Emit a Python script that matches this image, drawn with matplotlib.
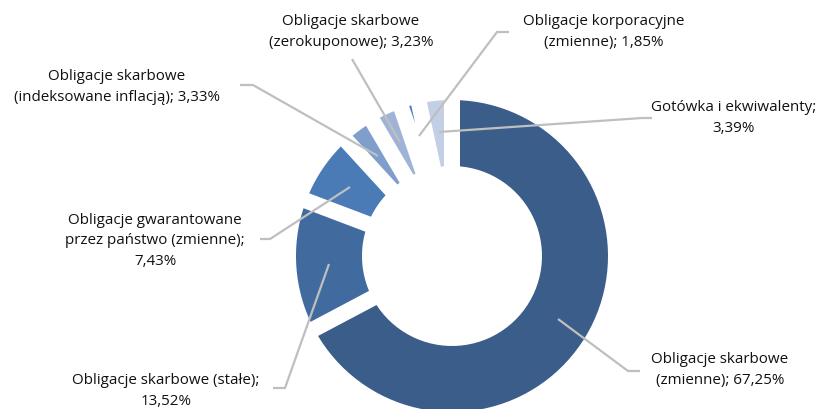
import numpy as np
import matplotlib
matplotlib.use("Agg")
import matplotlib.pyplot as plt
from matplotlib.patches import Polygon

# shares in %, clockwise from 12 o'clock
labels = [
    "Obligacje skarbowe\n(zmienne); 67,25%",
    "Obligacje skarbowe (stałe);\n13,52%",
    "Obligacje gwarantowane\nprzez państwo (zmienne);\n7,43%",
    "Obligacje skarbowe\n(indeksowane inflacją); 3,33%",
    "Obligacje skarbowe\n(zerokuponowe); 3,23%",
    "Obligacje korporacyjne\n(zmienne); 1,85%",
    "Gotówka i ekwiwalenty;\n3,39%",
]
shares = [67.25, 13.52, 7.43, 3.33, 3.23, 1.85, 3.39]
colors = ["#3a5d8a", "#416b9f", "#4a7bb6", "#7f9ecb", "#9fb3d6", "#4a7bb6", "#c3cfe4"]

# layout in pixel space
cx, cy = 452, 257
R_out, R_in = 156, 90
half_gap = 8

# label anchors and leader line paths (pixels)
label_pos = [(720, 370), (166, 391), (155, 241), (117, 87), (351, 32), (604, 32), (734, 118)]
leaders = [
    [(558, 320), (628, 372), (640, 372)],
    [(329, 265), (285, 389), (273, 389)],
    [(350, 188), (270, 240), (260, 240)],
    [(378, 157), (253, 86), (240, 86)],
    [(400, 143), (352, 60)],
    [(419, 137), (497, 33), (509, 33)],
    [(439, 133), (642, 119), (652, 119)],
]

plt.rcParams["font.family"] = ["Open Sans", "DejaVu Sans"]

fig = plt.figure(figsize=(8.35, 4.1), dpi=100)
ax = fig.add_axes([0, 0, 1, 1])
ax.set_xlim(0, 835)
ax.set_ylim(410, 0)
ax.set_aspect("equal")
ax.axis("off")


def pt(theta, rho):
    return (cx + rho * np.sin(theta), cy - rho * np.cos(theta))


def wedge_poly(a0, a1):
    # annular sector with parallel gaps between neighbours
    alpha = a1 - a0
    rho_apex = half_gap / np.sin(alpha / 2)
    if rho_apex >= R_out:
        return None
    pts = []
    for t in np.linspace(a0 + np.arcsin(half_gap / R_out), a1 - np.arcsin(half_gap / R_out), 80):
        pts.append(pt(t, R_out))
    if rho_apex < R_in:
        for t in np.linspace(a1 - np.arcsin(half_gap / R_in), a0 + np.arcsin(half_gap / R_in), 60):
            pts.append(pt(t, R_in))
    else:
        pts.append(pt((a0 + a1) / 2, rho_apex))
    return pts


total = sum(shares)
start = 0.0
for val, col in zip(shares, colors):
    a0 = np.deg2rad(start / total * 360)
    a1 = np.deg2rad((start + val) / total * 360)
    poly = wedge_poly(a0, a1)
    if poly is not None:
        ax.add_patch(Polygon(poly, closed=True, facecolor=col, edgecolor="none"))
    start += val

for path in leaders:
    xs, ys = zip(*path)
    ax.plot(xs, ys, color="#bfbfbf", lw=1.6, solid_capstyle="butt")

for txt, (x, y) in zip(labels, label_pos):
    ax.text(x, y, txt, ha="center", va="center", fontsize=10.9,
            color="#111111", linespacing=1.5, multialignment="center")

fig.savefig("out.png", dpi=100)
